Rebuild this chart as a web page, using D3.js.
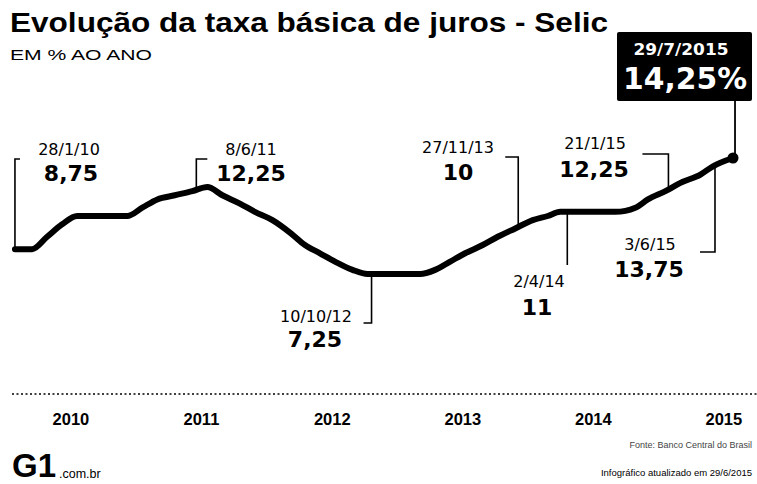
<!DOCTYPE html>
<html>
<head>
<meta charset="utf-8">
<script src="https://cdn.jsdelivr.net/npm/d3@7"></script>
<style>
  html, body { margin: 0; padding: 0; background: #fff; }
  svg { display: block; }
</style>
</head>
<body>
<div id="chart"></div>
<script>
// ---------- DATA ----------
const rateDates = ["2010-01-28","2010-03-17","2010-04-28","2010-06-09","2010-07-21","2010-12-08",
  "2011-01-19","2011-03-02","2011-04-20","2011-06-08","2011-07-20","2011-08-31","2011-10-19","2011-11-30",
  "2012-01-18","2012-03-07","2012-04-18","2012-05-30","2012-07-11","2012-08-29","2012-10-10",
  "2013-03-06","2013-04-17","2013-05-29","2013-07-10","2013-08-28","2013-10-09","2013-11-27",
  "2014-01-15","2014-02-26","2014-04-02","2014-09-03","2014-10-29","2014-12-03",
  "2015-01-21","2015-03-04","2015-04-29","2015-06-03","2015-07-29"];
const rateValues = [8.75,8.75,9.5,10.25,10.75,10.75,
  11.25,11.75,12,12.25,12.5,12,11.5,11,
  10.5,9.75,9,8.5,8,7.5,7.25,
  7.25,7.5,8,8.5,9,9.5,10,
  10.5,10.75,11,11,11.25,11.75,
  12.25,12.75,13.25,13.75,14.25];

const annDates = ["2010-01-28","2011-06-08","2012-10-10","2013-11-27","2014-04-02","2015-01-21","2015-06-03"];
const annDateText = ["28/1/10","8/6/11","10/10/12","27/11/13","2/4/14","21/1/15","3/6/15"];
const annValueText = ["8,75","12,25","7,25","10","11","12,25","13,75"];

const yearLabels = ["2010","2011","2012","2013","2014","2015"];

const lastDateText = "29/7/2015";
const lastValueText = "14,25%";

const titleText = "Evolução da taxa básica de juros - Selic";
const subtitleText = "EM % AO ANO";
const sourceText = "Fonte: Banco Central do Brasil";
const updateText = "Infográfico atualizado em 29/6/2015";

// ---------- SETUP ----------
const W = 757, H = 484;
const parse = d3.timeParse("%Y-%m-%d");
const series = rateDates.map((d, i) => ({ date: parse(d), value: rateValues[i] }));

const svg = d3.select("#chart").append("svg")
  .attr("width", W).attr("height", H)
  .attr("viewBox", `0 0 ${W} ${H}`);
svg.append("rect").attr("width", W).attr("height", H).attr("fill", "#fff");

const x = d3.scaleTime()
  .domain([new Date(2010, 0, 1), new Date(2016, 0, 1)])
  .range([5.3, 5.3 + 2191 * 0.3576]);
const y = d3.scaleLinear().domain([7.25, 14.25]).range([274, 158]);

// Title
svg.append("text").attr("x", 10).attr("y", 32)
  .attr("font-family", "'Liberation Sans', Arial, sans-serif")
  .attr("font-weight", "bold").attr("font-size", 27)
  .attr("textLength", 598).attr("lengthAdjust", "spacingAndGlyphs")
  .text(titleText);
svg.append("text").attr("x", 10).attr("y", 60)
  .attr("font-family", "'Liberation Sans', Arial, sans-serif")
  .attr("font-size", 14)
  .attr("textLength", 142).attr("lengthAdjust", "spacingAndGlyphs")
  .text(subtitleText);

// Line
const line = d3.line().x(d => x(d.date)).y(d => y(d.value)).curve(d3.curveMonotoneX);
svg.append("path").datum(series)
  .attr("d", line).attr("fill", "none").attr("stroke", "#000")
  .attr("stroke-width", 6).attr("stroke-linejoin", "round").attr("stroke-linecap", "round");

// Annotations (layout only)
const annLayout = [
  { endY: 159, tick: 5,   dx: 0, tx: 69,  ty: 155, vx: 71,  vy: 181 },
  { endY: 159, tick: 11,  dx: 4, tx: 251, ty: 155, vx: 251, vy: 181 },
  { endY: 323, tick: -8,  dx: 4, tx: 316, ty: 322, vx: 315, vy: 347 },
  { endY: 157, tick: -13, dx: 3, tx: 458, ty: 153, vx: 458, vy: 180 },
  { endY: 265, tick: 0,   dx: 7, tx: 539, ty: 287, vx: 537, vy: 315 },
  { endY: 154, tick: -26, dx: 3, tx: 595, ty: 149, vx: 594, vy: 177 },
  { endY: 252, tick: -15, dx: 2, tx: 650, ty: 250, vx: 649, vy: 277 }
];
const lookup = new Map(series.map(d => [+d.date, d.value]));
annDates.forEach((ds, i) => {
  const L = annLayout[i];
  const dt = parse(ds);
  const px = x(dt) + L.dx;
  const py = y(lookup.get(+dt));
  let pts = [[px, py], [px, L.endY]];
  if (L.tick !== 0) pts.push([px + L.tick, L.endY]);
  svg.append("path").attr("d", d3.line()(pts))
    .attr("fill", "none").attr("stroke", "#000").attr("stroke-width", 1.6);
  svg.append("text").attr("x", L.tx).attr("y", L.ty)
    .attr("text-anchor", "middle")
    .attr("font-family", "'DejaVu Sans', sans-serif").attr("font-size", 16)
    .text(annDateText[i]);
  svg.append("text").attr("x", L.vx).attr("y", L.vy)
    .attr("text-anchor", "middle")
    .attr("font-family", "'DejaVu Sans', sans-serif").attr("font-weight", "bold").attr("font-size", 22)
    .text(annValueText[i]);
});

// Last point: box, connector and dot
const last = series[series.length - 1];
svg.append("line")
  .attr("x1", x(last.date) + 2).attr("x2", x(last.date) + 2)
  .attr("y1", 101).attr("y2", y(last.value))
  .attr("stroke", "#000").attr("stroke-width", 1.8);
svg.append("rect").attr("x", 617).attr("y", 32).attr("width", 135).attr("height", 69)
  .attr("rx", 2).attr("fill", "#000");
svg.append("text").attr("x", 681).attr("y", 55).attr("text-anchor", "middle")
  .attr("font-family", "'DejaVu Sans', sans-serif").attr("font-weight", "bold").attr("font-size", 16)
  .attr("fill", "#fff").attr("textLength", 95).attr("lengthAdjust", "spacingAndGlyphs")
  .text(lastDateText);
svg.append("text").attr("x", 685).attr("y", 89).attr("text-anchor", "middle")
  .attr("font-family", "'DejaVu Sans', sans-serif").attr("font-weight", "bold").attr("font-size", 31)
  .attr("fill", "#fff").attr("textLength", 124).attr("lengthAdjust", "spacingAndGlyphs")
  .text(lastValueText);
svg.append("circle").attr("cx", x(last.date)).attr("cy", y(last.value)).attr("r", 5.5).attr("fill", "#000");

// Dotted baseline
svg.append("line").attr("x1", 12).attr("x2", W).attr("y1", 394).attr("y2", 394)
  .attr("stroke", "#000").attr("stroke-width", 1.5).attr("stroke-dasharray", "2,2.5");

// Year labels via axis
const yearTicks = yearLabels.map(yr => new Date(+yr, 6, 2));
const axis = d3.axisBottom(x).tickValues(yearTicks).tickSize(0).tickPadding(0)
  .tickFormat(d3.timeFormat("%Y"));
const gAxis = svg.append("g").attr("transform", "translate(0,413)").call(axis);
gAxis.select(".domain").remove();
gAxis.selectAll("text")
  .attr("dy", 0).attr("y", 12)
  .attr("font-family", "'Liberation Sans', Arial, sans-serif")
  .attr("font-weight", "bold").attr("font-size", 16.5).attr("fill", "#000");

// Footer
svg.append("text").attr("x", 752).attr("y", 448).attr("text-anchor", "end")
  .attr("font-family", "'Liberation Sans Narrow', 'Liberation Sans', Arial, sans-serif").attr("font-size", 9)
  .attr("fill", "#444")
  .text(sourceText);
svg.append("text").attr("x", 752).attr("y", 476).attr("text-anchor", "end")
  .attr("font-family", "'Liberation Sans Narrow', 'Liberation Sans', Arial, sans-serif").attr("font-size", 9.5)
  .attr("fill", "#000")
  .text(updateText);
svg.append("text").attr("x", 12).attr("y", 477)
  .attr("font-family", "'Liberation Sans', Arial, sans-serif").attr("font-weight", "bold").attr("font-size", 33)
  .text("G1");
svg.append("text").attr("x", 59).attr("y", 478)
  .attr("font-family", "'Liberation Sans Narrow', 'Liberation Sans', Arial, sans-serif").attr("font-size", 12.5)
  .text(".com.br");
</script>
</body>
</html>
